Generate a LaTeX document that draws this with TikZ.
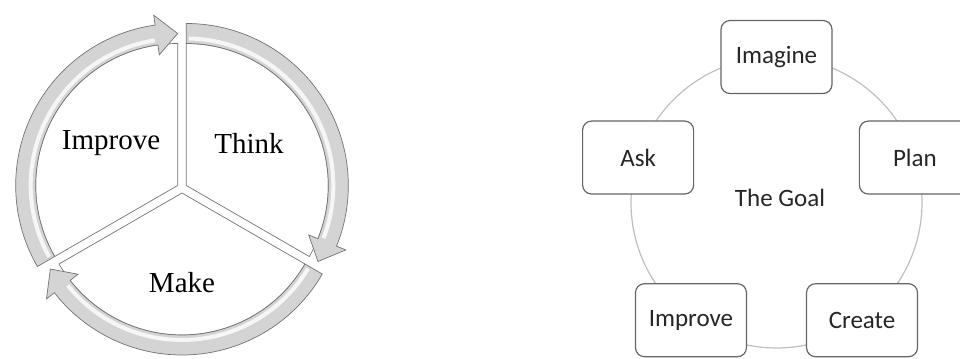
\documentclass[tikz,border=0pt]{standalone}
\usepackage{fontspec}
\setmainfont{Liberation Serif}
\newfontfamily\calib{Carlito}
\usepackage{tikz}
\usetikzlibrary{positioning}

\tikzset{
  sector/.style={fill=white, draw=black!55, line width=0.35pt},
  band/.style={fill=black!17, draw=black!55, line width=0.35pt},
  stage/.style={draw=black!60, fill=white, line width=0.6pt, rounded corners=4.5pt,
                minimum width=55.5pt, minimum height=36.5pt, inner sep=0pt,
                text=black!85, font=\calib\fontsize{12.5}{15}\selectfont},
}

\begin{document}
\begin{tikzpicture}[x=0.5pt, y=0.5pt]
  \useasboundingbox (0,0) rectangle (960,359);

  % left: three-step cycle, clockwise arrows
  \foreach \a/\b/\bis in {90/-30/30, -30/-150/-90, 210/90/150} {
    \begin{scope}[shift={(182,171)}, shift={(\bis:5)}]
      \pgfmathsetmacro{\e}{\b+8}
      \draw[sector] (0,0) -- (\a:142) arc[start angle=\a, end angle=\b, radius=142] -- cycle;
      \draw[band] (\a:162) arc[start angle=\a, end angle=\e, radius=162]
        -- (\e:172) -- (\b:152) -- (\e:132) -- (\e:142)
        arc[start angle=\e, end angle=\a, radius=142] -- cycle;
      \draw[white, opacity=0.8, line width=2pt]
        (\a-1:147) arc[start angle=\a-1, end angle=\e+1, radius=147];
    \end{scope}
  }
  \node[font=\fontsize{14.5}{17}\selectfont] (think) at (249,216) {Think};
  \node[font=\fontsize{14.5}{17}\selectfont] (improveL) at (111,216) {Improve};
  \node[font=\fontsize{14.5}{17}\selectfont] (make) at (182,76) {Make};

  % right: five stages round the goal
  \begin{scope}[shift={(776.5,156.5)}]
    \draw[black!25, line width=0.6pt] (0,0) circle[radius=145.5];
    \foreach \ang/\nm/\lbl in {90/imagine/Imagine, 18/plan/Plan, -54/create/Create,
                               -126/improve/Improve, 162/ask/Ask} {
      \node[stage] (\nm) at (\ang:145.5) {\lbl};
    }
    \node[text=black!85, font=\calib\fontsize{12.5}{15}\selectfont] (goal) at (3.5,4.5) {The Goal};
  \end{scope}
\end{tikzpicture}
\end{document}
